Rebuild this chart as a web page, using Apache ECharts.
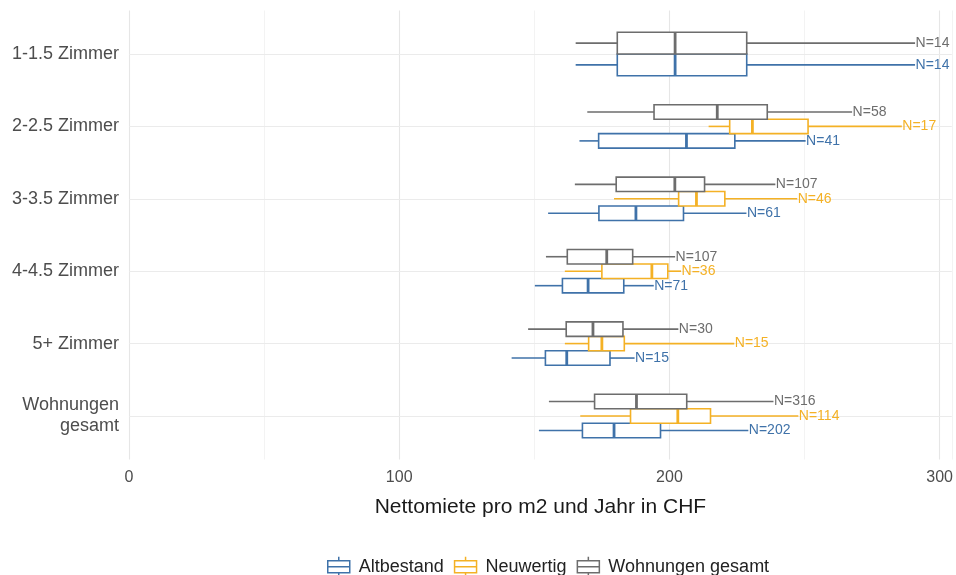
<!DOCTYPE html>
<html>
<head>
<meta charset="utf-8">
<script src="https://cdn.jsdelivr.net/npm/echarts@6/dist/echarts.min.js"></script>
<style>
  html, body { margin: 0; padding: 0; background: #fff; }
  #chart { width: 956px; height: 575px; }
</style>
</head>
<body>
<div id="chart"></div>
<script>
// Room-size classes shown on the vertical axis (top to bottom)
const categories = ['1-1.5 Zimmer', '2-2.5 Zimmer', '3-3.5 Zimmer', '4-4.5 Zimmer', '5+ Zimmer', 'Wohnungen\ngesamt'];

// Building-age groups
const groups = ['Altbestand', 'Neuwertig', 'Wohnungen gesamt'];

// Each row: [category index, lower whisker, Q1, median, Q3, upper whisker, N]
const altbestand = [
  [0, 165.3, 180.7, 202.1, 228.6, 290.9, 14],
  [1, 166.7, 173.8, 206.3, 224.2, 250.4, 41],
  [2, 155.1, 173.9, 187.6, 205.2, 228.5, 61],
  [3, 150.2, 160.4, 169.9, 183.1, 194.2, 71],
  [4, 141.6, 154.1, 162.0, 178.0, 187.1, 15],
  [5, 151.7, 167.8, 179.5, 196.7, 229.2, 202]
];
const neuwertig = [
  [1, 214.5, 222.3, 230.7, 251.3, 286.0, 17],
  [2, 179.5, 203.4, 210.0, 220.5, 247.3, 46],
  [3, 161.3, 175.0, 193.5, 199.4, 204.3, 36],
  [4, 161.3, 170.1, 175.0, 183.3, 224.0, 15],
  [5, 167.0, 185.6, 203.1, 215.2, 247.7, 114]
];
const gesamt = [
  [0, 165.3, 180.7, 202.1, 228.6, 290.9, 14],
  [1, 169.6, 194.3, 217.7, 236.2, 267.6, 58],
  [2, 165.0, 180.3, 202.0, 213.0, 239.2, 107],
  [3, 154.3, 162.2, 176.8, 186.4, 202.1, 107],
  [4, 147.7, 161.8, 171.7, 182.8, 203.3, 30],
  [5, 155.4, 172.3, 187.8, 206.4, 238.5, 316]
];

// Labelled ticks on the rent axis
const xTicks = [0, 100, 200, 300];

const FONT = '"Liberation Sans", Arial, Helvetica, sans-serif';
const colors = {
  'Altbestand': '#3f72a9',
  'Neuwertig': '#f4b125',
  'Wohnungen gesamt': '#6d6d6d'
};
const groupData = {
  'Altbestand': altbestand,
  'Neuwertig': neuwertig,
  'Wohnungen gesamt': gesamt
};

// Stacking order inside a category band, top to bottom
const dodgeOrder = ['Wohnungen gesamt', 'Neuwertig', 'Altbestand'];
const dodgeWidth = 0.6;
const present = {};
dodgeOrder.forEach(g => { present[g] = new Set(groupData[g].map(r => r[0])); });

function makeRenderer(name) {
  const color = colors[name];
  return function (params, api) {
    const c = api.value(0);
    const lo = api.value(1), q1 = api.value(2), med = api.value(3), q3 = api.value(4), hi = api.value(5);
    const n = api.value(6);
    const stack = dodgeOrder.filter(g => present[g].has(c));
    const k = stack.indexOf(name);
    const slot = dodgeWidth / stack.length;
    const yc = c - dodgeWidth / 2 + (k + 0.5) * slot;
    const h = Math.abs(api.size([0, slot])[1]);
    const pLo = api.coord([lo, yc]);
    const pQ1 = api.coord([q1, yc]);
    const pMed = api.coord([med, yc]);
    const pQ3 = api.coord([q3, yc]);
    const pHi = api.coord([hi, yc]);
    const y = pLo[1];
    const stroke = { stroke: color, lineWidth: 1.6, fill: null };
    return {
      type: 'group',
      children: [
        { type: 'line', shape: { x1: pLo[0], y1: y, x2: pQ1[0], y2: y }, style: stroke },
        { type: 'line', shape: { x1: pQ3[0], y1: y, x2: pHi[0], y2: y }, style: stroke },
        {
          type: 'rect',
          shape: { x: pQ1[0], y: y - h / 2, width: pQ3[0] - pQ1[0], height: h },
          style: { fill: '#fff', stroke: color, lineWidth: 1.6 }
        },
        { type: 'line', shape: { x1: pMed[0], y1: y - h / 2, x2: pMed[0], y2: y + h / 2 }, style: { stroke: color, lineWidth: 2.8 } },
        {
          type: 'text',
          x: pHi[0] + 0.5, y: y,
          style: {
            text: 'N=' + n, fill: color, font: '14px ' + FONT,
            align: 'left', verticalAlign: 'middle'
          }
        }
      ]
    };
  };
}

const boxSeries = groups.map(name => ({
  type: 'custom',
  name: name,
  renderItem: makeRenderer(name),
  data: groupData[name],
  encode: { x: [1, 2, 3, 4, 5], y: 0 },
  itemStyle: { color: colors[name] },
  z: 10,
  silent: true,
  clip: false
}));

// Horizontal guide lines at each category, kept beneath the boxes
const guideSeries = {
  type: 'scatter',
  name: 'guides',
  data: [],
  silent: true,
  z: 1,
  markLine: {
    z: 1,
    silent: true,
    symbol: ['none', 'none'],
    label: { show: false },
    lineStyle: { color: '#ebebeb', width: 1.1, type: 'solid' },
    emphasis: { disabled: true },
    animation: false,
    data: categories.map((_, i) => ({ yAxis: i }))
  }
};

const chart = echarts.init(document.getElementById('chart'), null, { renderer: 'canvas' });
chart.setOption({
  animation: false,
  backgroundColor: '#fff',
  textStyle: { fontFamily: FONT },
  grid: { left: 129, right: 1, top: 10.6, bottom: 115.6, containLabel: false },
  xAxis: {
    type: 'value',
    min: 0,
    max: 304.5,
    interval: 50,
    name: 'Nettomiete pro m2 und Jahr in CHF',
    nameLocation: 'middle',
    nameGap: 37,
    nameTextStyle: { fontSize: 21, color: '#1a1a1a', fontFamily: FONT },
    axisLine: { show: false },
    axisTick: { show: false },
    axisLabel: {
      fontSize: 16, color: '#4d4d4d', fontFamily: FONT, margin: 10,
      formatter: v => (xTicks.indexOf(v) >= 0 ? String(v) : '')
    },
    splitLine: { show: true, lineStyle: { color: ['#e6e6e6', '#f3f3f3'], width: 1.1 } }
  },
  yAxis: {
    type: 'value',
    inverse: true,
    min: -0.6,
    max: 5.6,
    axisLine: { show: false },
    axisTick: { show: false },
    splitLine: { show: false },
    axisLabel: {
      customValues: categories.map((_, i) => i),
      formatter: v => categories[Math.round(v)] || '',
      fontSize: 18, color: '#4d4d4d', fontFamily: FONT, margin: 10,
      align: 'right', lineHeight: 21
    }
  },
  legend: {
    data: groups.map(g => ({
      name: g,
      itemStyle: { color: '#fff', borderColor: colors[g], borderWidth: 1.5 }
    })),
    left: 327,
    top: 556,
    padding: 0,
    itemWidth: 26,
    itemHeight: 20,
    itemGap: 10,
    // boxplot key glyph; the zero-length stroke at x=26 leaves room before the text
    icon: 'path://M11,0L11,4M0,4L22,4L22,16L0,16ZM0,10L22,10M11,16L11,20M26,10L26,10',
    textStyle: { fontSize: 18, color: '#222', fontFamily: FONT },
    selectedMode: false
  },
  series: [guideSeries].concat(boxSeries)
});
</script>
</body>
</html>
